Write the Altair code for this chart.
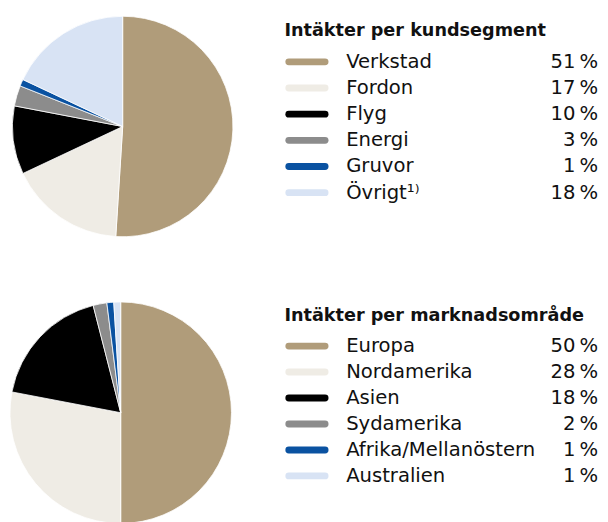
import altair as alt
import pandas as pd

FONT = "DejaVu Sans"

seg_title = "Intäkter per kundsegment"
seg_labels = ["Verkstad", "Fordon", "Flyg", "Energi", "Gruvor", "Övrigt¹⁾"]
seg_values = [51, 17, 10, 3, 1, 18]

mkt_title = "Intäkter per marknadsområde"
mkt_labels = ["Europa", "Nordamerika", "Asien", "Sydamerika", "Afrika/Mellanöstern", "Australien"]
mkt_values = [50, 28, 18, 2, 1, 1]

palette = ["#B09C7A", "#EFECE5", "#000000", "#8C8C8C", "#0A52A1", "#D8E3F4"]


def section(title, labels, values, cx, cy, r, title_y, row_range):
    df = pd.DataFrame({
        "label": labels,
        "value": values,
        "row": list(range(len(labels))),
        "pct": [f"{v}\u2009%" for v in values],
    })
    color = alt.Color("label:N", scale=alt.Scale(domain=labels, range=palette), legend=None)
    base = alt.Chart(df)
    pie = base.mark_arc(outerRadius=r, stroke="white", strokeWidth=0.8).encode(
        theta=alt.Theta("value:Q", stack=True),
        order=alt.Order("row:Q"),
        color=color,
        x=alt.value(cx),
        y=alt.value(cy),
    )
    yenc = alt.Y("row:Q", scale=alt.Scale(domain=[0, len(labels) - 1], range=row_range), axis=None)
    sw = base.mark_rule(strokeWidth=7, strokeCap="round").encode(
        x=alt.value(282.5), x2=alt.value(319.5), y=yenc, color=color
    )
    lab = base.mark_text(align="left", baseline="middle", font=FONT, fontSize=20, color="#111111").encode(
        x=alt.value(341), y=yenc, text="label:N"
    )
    pct = base.mark_text(align="right", baseline="middle", font=FONT, fontSize=20, color="#111111").encode(
        x=alt.value(598), y=yenc, text="pct:N"
    )
    ttl = alt.Chart(pd.DataFrame({"t": [title]})).mark_text(
        align="left", baseline="alphabetic", font=FONT, fontSize=18, fontWeight="bold", color="#111111"
    ).encode(x=alt.value(278), y=alt.value(title_y), text="t:N")
    return alt.layer(pie, sw, lab, pct, ttl).resolve_scale(y="shared").properties(width=600, height=290)


top = section(seg_title, seg_labels, seg_values, 113, 113, 112.5, 21, [47, 180.5])
bottom = section(mkt_title, mkt_labels, mkt_values, 111, 114, 113, 20.5, [46, 178.5])

chart = alt.vconcat(top, bottom, spacing=0).resolve_scale(
    color="independent", y="independent", theta="independent"
).properties(padding=0).configure_view(stroke=None)

chart.save("out.html", embed_options={"renderer": "svg", "actions": False})
